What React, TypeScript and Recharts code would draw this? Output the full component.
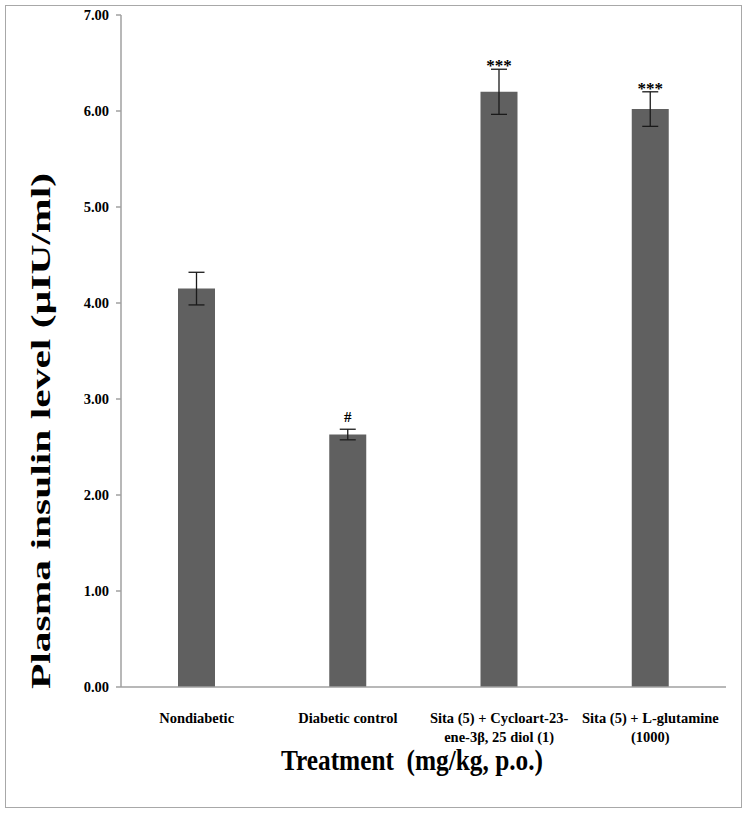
import { Bar, BarChart, ErrorBar, LabelList, XAxis, YAxis } from "recharts"

const categories = [
  "Nondiabetic",
  "Diabetic control",
  "Sita (5) + Cycloart-23-ene-3β, 25 diol (1)",
  "Sita (5) + L-glutamine (1000)",
]
const tickLines = [
  ["Nondiabetic"],
  ["Diabetic control"],
  ["Sita (5) + Cycloart-23-", "ene-3β, 25 diol (1)"],
  ["Sita (5) + L-glutamine", "(1000)"],
]
const insulin = [4.15, 2.63, 6.2, 6.02]
const sem = [0.17, 0.055, 0.235, 0.18]
const marks = ["", "#", "***", "***"]
const yTicks = [0, 1, 2, 3, 4, 5, 6, 7]

const data = categories.map((name, i) => ({
  name,
  insulin: insulin[i],
  err: sem[i],
  mark: marks[i],
}))

const font = "'Liberation Serif', 'Times New Roman', serif"

const CategoryTick = (props: any) => {
  const { x, y, index } = props
  const lines = tickLines[index] || []
  return (
    <text x={x} y={y + 28} textAnchor="middle" fontFamily={font} fontWeight="bold" fontSize={14.5} fill="#000">
      {lines.map((l, i) => (
        <tspan key={i} x={x} dy={i === 0 ? 0 : 19}>
          {l}
        </tspan>
      ))}
    </text>
  )
}

const renderMark = (props: any) => {
  const { x, y, width, height, index } = props
  const m = marks[index]
  if (!m) return null
  const perUnit = height / insulin[index]
  const errTop = y - sem[index] * perUnit
  const stars = m.startsWith("*")
  return (
    <text
      x={x + width / 2}
      y={stars ? errTop + 2 : errTop - 7}
      textAnchor="middle"
      fontFamily={font}
      fontWeight="bold"
      fontSize={stars ? 17 : 15}
      fill="#000"
    >
      {m}
    </text>
  )
}

export default function App() {
  return (
    <div style={{ position: "absolute", left: 0, top: 0, width: 747, height: 813, background: "#fff" }}>
      <div
        style={{
          position: "absolute",
          left: 5,
          top: 5,
          width: 735,
          height: 801,
          border: "1.5px solid #a8a8a8",
        }}
      />
      <BarChart
        width={747}
        height={813}
        data={data}
        margin={{ top: 15, right: 21, bottom: 66, left: 61 }}
        barCategoryGap={0}
      >
        <XAxis
          dataKey="name"
          height={60}
          interval={0}
          tickLine={false}
          stroke="#a0a0a0"
          strokeWidth={1.5}
          tick={<CategoryTick />}
        />
        <YAxis
          width={60}
          domain={[0, 7]}
          ticks={yTicks}
          interval={0}
          tickSize={5}
          tickMargin={7}
          stroke="#a0a0a0"
          strokeWidth={1.5}
          tickFormatter={(v: number) => v.toFixed(2)}
          tick={{ fill: "#000", fontFamily: font, fontWeight: "bold", fontSize: 14.5 }}
        />
        <Bar dataKey="insulin" fill="#606060" barSize={37} isAnimationActive={false}>
          <ErrorBar dataKey="err" width={8} stroke="#1a1a1a" strokeWidth={1.3} direction="y" />
          <LabelList dataKey="mark" content={renderMark} />
        </Bar>
      </BarChart>
      <svg
        width={747}
        height={813}
        style={{ position: "absolute", left: 0, top: 0, pointerEvents: "none" }}
      >
        <text
          transform="translate(50 431) rotate(-90)"
          textAnchor="middle"
          fontFamily={font}
          fontWeight="bold"
          fontSize={27}
          fill="#000"
          textLength={516}
          lengthAdjust="spacingAndGlyphs"
        >
          Plasma insulin level (µIU/ml)
        </text>
        <text
          x={412}
          y={770}
          textAnchor="middle"
          fontFamily={font}
          fontWeight="bold"
          fontSize={29}
          fill="#000"
          textLength={262}
          lengthAdjust="spacingAndGlyphs"
          xmlSpace="preserve"
        >
          {"Treatment  (mg/kg, p.o.)"}
        </text>
      </svg>
    </div>
  )
}
